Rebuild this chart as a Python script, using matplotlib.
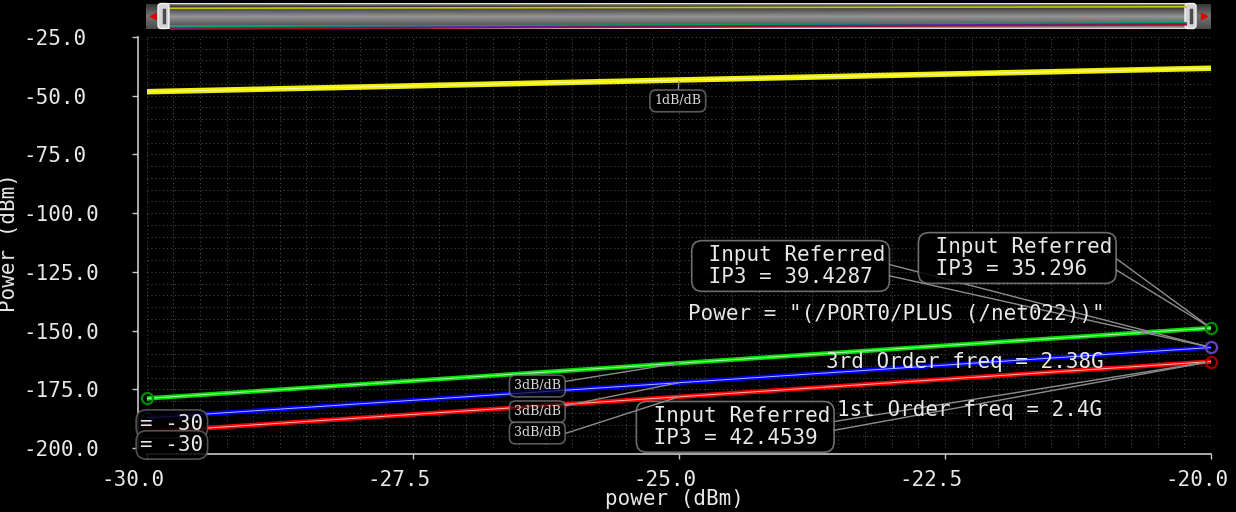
import matplotlib
matplotlib.use('Agg')
import matplotlib.pyplot as plt
import numpy as np
from matplotlib.ticker import MultipleLocator, FormatStrFormatter
from matplotlib.patches import FancyBboxPatch
from matplotlib.transforms import ScaledTranslation

# swept input power and the traces at the sweep ends
power = [-30.0, -20.0]
first_order = [-48.3, -38.3]      # 1dB/dB fundamental
third_green = [-178.9, -148.9]    # 3dB/dB intermod traces
third_blue = [-187.2, -157.2]
third_red = [-193.2, -163.2]
ip3_values = [35.296, 39.4287, 42.4539]   # green, blue, red

W, H = 1236, 512
mono = 'DejaVu Sans Mono'
fg = '#e8e8e8'

fig = plt.figure(figsize=(W / 100, H / 100), dpi=100, facecolor='black')
ax = fig.add_axes([146.7 / W, 1 - 448 / H, (1211 - 146.7) / W, (448 - 37) / H])
ax.set_facecolor('black')
ax.set_xlim(-30, -20)
ax.set_ylim(-200, -25)

# dotted grid on every minor step
ax.xaxis.set_major_locator(MultipleLocator(2.5))
ax.xaxis.set_minor_locator(MultipleLocator(0.25))
ax.yaxis.set_major_locator(MultipleLocator(25))
ax.yaxis.set_minor_locator(MultipleLocator(5))
ax.xaxis.set_major_formatter(FormatStrFormatter('%.1f'))
ax.yaxis.set_major_formatter(FormatStrFormatter('%.1f'))
ax.grid(which='both', color='#484848', linestyle=(0, (1, 2.5)), lw=0.8)
ax.set_axisbelow(True)

for s in ('top', 'right'):
    ax.spines[s].set_visible(False)
ax.spines['left'].set_position(('outward', 6.2))
ax.spines['bottom'].set_position(('outward', 4.3))
for s in ('left', 'bottom'):
    ax.spines[s].set_color('#c8c8c8')
    ax.spines[s].set_linewidth(1.2)

ax.tick_params(colors='#c8c8c8', labelcolor=fg, labelsize=15, width=1)
ax.tick_params(axis='y', which='major', length=4.3, pad=78.5)
ax.tick_params(axis='y', which='minor', length=2.9)
ax.tick_params(axis='x', which='major', length=3.6, pad=7.9)
ax.tick_params(axis='x', which='minor', length=2.2)
for lab in ax.get_yticklabels():
    lab.set_family(mono)
    lab.set_horizontalalignment('left')
shift = ScaledTranslation(-0.14, 0, fig.dpi_scale_trans)
for lab in ax.get_xticklabels():
    lab.set_family(mono)
    lab.set_transform(lab.get_transform() + shift)

ax.set_xlabel('power (dBm)', color=fg, fontsize=15, family=mono, va='top')
ax.set_ylabel('Power (dBm)', color=fg, fontsize=15, family=mono)
ax.xaxis.set_label_coords(0.496, -0.1)
ax.yaxis.set_label_coords(-0.12, 0.5)


def trace(vals, color, lw):
    ax.plot(power, vals, color=color, lw=lw, solid_capstyle='butt', zorder=3)
    ax.plot(power, vals, color='white', lw=0.7, alpha=0.7, zorder=4)


trace(first_order, '#f0f000', 4.0)
third = [(third_green, '#00e000', '#008a00'),
         (third_blue, '#0000ff', '#6a40b8'),
         (third_red, '#ff0000', '#a00000')]
for vals, col, dark in third:
    trace(vals, col, 3.2)
    ax.plot(power, vals, ls='none', marker='o', ms=8, mfc='none', mec=dark,
            mew=1.6, zorder=6, clip_on=False)

box = dict(boxstyle='round,pad=0.2,rounding_size=0.5', fc='black',
           ec='#808080', lw=1.2, alpha=0.85)
leader = dict(arrowstyle='-', color='#8c8c8c', lw=1, shrinkA=0, shrinkB=4)


def callout(text, xytext, target, relposes, **kw):
    # first pass draws the text, later passes only add leader lines
    for i, rp in enumerate(relposes):
        props = dict(leader, relpos=rp)
        if i == 0:
            ax.annotate(text, xy=target, xytext=xytext, arrowprops=props,
                        bbox=box, zorder=7, **kw)
        else:
            ax.annotate(text, xy=target, xytext=xytext, arrowprops=props,
                        color='none', zorder=7,
                        bbox=dict(box, fc='none', ec='none'),
                        **{k: v for k, v in kw.items() if k != 'color'})


txt = dict(fontsize=15, family=mono, color=fg, ha='left', va='center',
           linespacing=1.15)

callout(' Input Referred\n IP3 = %s' % ip3_values[1], (-24.84, -122.5),
        (power[1], third_blue[1]), [(1, 0.56), (1, 0.29)], **txt)
callout(' Input Referred\n IP3 = %s' % ip3_values[0], (-22.71, -119.1),
        (power[1], third_green[1]), [(1, 0.56), (1, 0.28)], **txt)
callout(' Input Referred\n IP3 = %s' % ip3_values[2], (-25.36, -191.0),
        (power[1], third_red[1]), [(1, 0.61), (1, 0.4)], **txt)

ax.text(-24.91, -142.9, 'Power = "(/PORT0/PLUS (/net022))"', zorder=8, **txt)
ax.text(-23.62, -163.4, '3rd Order freq = 2.38G', zorder=8, **txt)
ax.text(-23.51, -183.8, '1st Order freq = 2.4G', zorder=8, **txt)
for yv in (-189.8, -198.7):
    ax.text(-30.06, yv, '= -30', clip_on=False, zorder=8,
            bbox=dict(box, pad=0.12, ec='#606060'), **txt)

# slope tags on each trace at the middle of the sweep
small = dict(fontsize=9, family='DejaVu Serif', color='#dcdcdc', ha='center',
             va='center', zorder=7,
             bbox=dict(boxstyle='round,pad=0.35,rounding_size=0.5', fc='black',
                       ec='#808080', lw=1.2, alpha=0.7))
mid = -25.0
ax.annotate('1dB/dB', xy=(mid, np.interp(mid, power, first_order)),
            xytext=(-25.01, -52.2), arrowprops=dict(leader, shrinkB=1), **small)
tags = [(third_green, -173.6, (1, 0.8)), (third_blue, -184.6, (1, 0.9)),
        (third_red, -193.6, (1, 0.35))]
for vals, yv, rp in tags:
    ax.annotate('3dB/dB', xy=(mid, np.interp(mid, power, vals)),
                xytext=(-26.33, yv), arrowprops=dict(leader, relpos=rp, shrinkB=0),
                **small)

# overview strip along the top
sb = fig.add_axes([146 / W, 1 - 30 / H, (1211 - 146) / W, 28 / H])
sb.set_xlim(0, 1065)
sb.set_ylim(28, 0)
sb.axis('off')
rows = np.arange(26)
shade = np.interp(rows, [0, 1, 3, 13, 21, 24, 25], [0.9, 0.5, 0.2, 0.58, 0.36, 0.6, 0.85])
sb.imshow(np.repeat(shade[:, None], 2, axis=1), cmap='gray', vmin=0, vmax=1,
          extent=(22, 1043, 27, 1), aspect='auto', interpolation='bilinear')
cap = np.interp(rows, [0, 12, 25], [0.22, 0.45, 0.3])
for x0, x1 in ((0, 13), (1050, 1065)):
    sb.imshow(np.repeat(cap[:, None], 2, axis=1), cmap='gray', vmin=0, vmax=1,
              extent=(x0, x1, 27, 2), aspect='auto', interpolation='bilinear')
sb.plot([7], [14], marker='<', color='#e00000', ms=5, ls='none')
sb.plot([1058], [14], marker='>', color='#e00000', ms=5, ls='none')
for x0 in (12, 1039):
    sb.add_patch(FancyBboxPatch((x0, 1.5), 11, 25,
                                boxstyle='round,pad=0,rounding_size=3',
                                fc='#d4d4d8', ec='#f4f4f4', lw=1, zorder=3))
    sb.plot([x0 + 5.5] * 2, [8, 20], color='#4a4a4a', lw=2.5, zorder=4)

ov = fig.add_axes([170 / W, 1 - 30 / H, (1187 - 170) / W, 27 / H])
ov.set_xlim(-30, -20)
ov.set_ylim(-199, -12)
ov.axis('off')
for vals, col in ((first_order, '#c8c800'), (third_green, '#00a060'),
                  (third_blue, '#5a20a8'), (third_red, '#a01030')):
    ov.plot(power, vals, color=col, lw=1.2)

fig.savefig('out.png', dpi=100, facecolor='black')
